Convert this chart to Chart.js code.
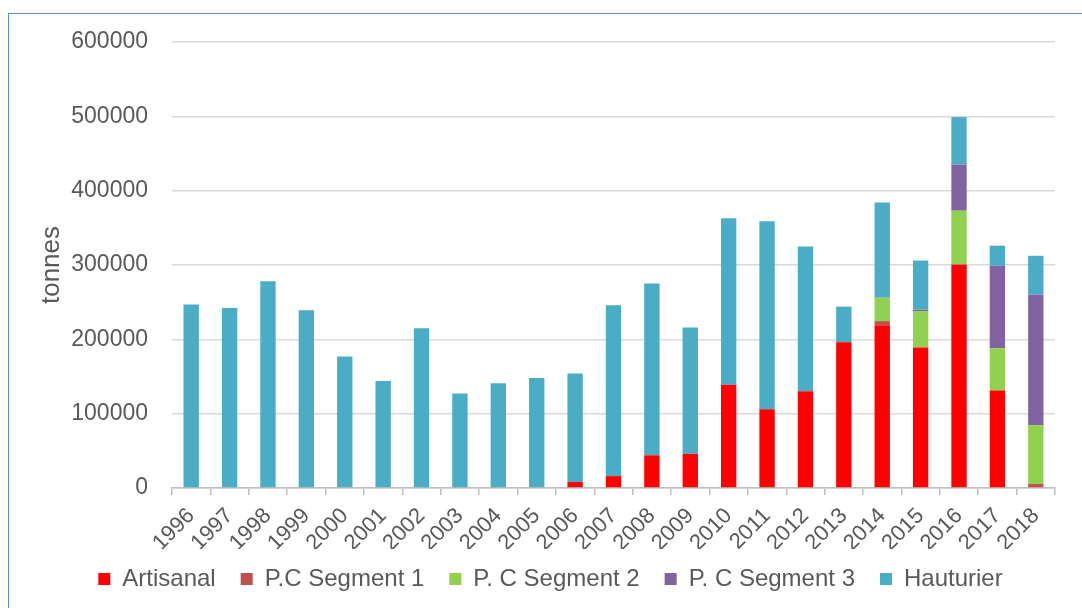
<!DOCTYPE html>
<html>
<head>
<meta charset="utf-8">
<script src="https://cdn.jsdelivr.net/npm/chart.js@4/dist/chart.umd.min.js"></script>
<style>
  html, body { margin: 0; padding: 0; background: #fff; }
  #wrap { position: relative; width: 1082px; height: 608px; overflow: hidden; }
  #frame { position: absolute; left: 8px; top: 13px; right: -10px; bottom: -10px;
           border-top: 1px solid #5b8fd0; border-left: 1px solid #5b8fd0; }
  canvas { position: absolute; left: 0; top: 0; }
</style>
</head>
<body>
<div id="wrap">
  <div id="frame"></div>
  <canvas id="chart" width="1082" height="608"></canvas>
</div>
<script>
// categories
const years = ['1996', '1997', '1998', '1999', '2000', '2001', '2002', '2003', '2004', '2005', '2006',
               '2007', '2008', '2009', '2010', '2011', '2012', '2013', '2014', '2015', '2016', '2017', '2018'];

// series values (tonnes)
const artisanal = [0, 0, 0, 0, 0, 0, 0, 0, 0, 0, 8000,
                   16000, 44000, 46000, 139000, 106000, 130000, 196000, 219000, 189000, 300000, 131000, 0];
const segment1  = [0, 0, 0, 0, 0, 0, 0, 0, 0, 0, 0,
                   0, 0, 0, 0, 0, 0, 0, 5500, 0, 1000, 0, 5400];
const segment2  = [0, 0, 0, 0, 0, 0, 0, 0, 0, 0, 0,
                   0, 0, 0, 0, 0, 0, 0, 31500, 49000, 72000, 57000, 79000];
const segment3  = [0, 0, 0, 0, 0, 0, 0, 0, 0, 0, 0,
                   0, 0, 0, 0, 0, 0, 0, 0, 2000, 62000, 111000, 176000];
const hauturier = [247000, 242000, 278000, 239000, 177000, 144000, 215000, 127000, 141000, 148000, 146000,
                   230000, 231000, 170000, 224000, 253000, 195000, 48000, 128000, 66000, 64000, 27000, 52000];

const yTicks = [0, 100000, 200000, 300000, 400000, 500000, 600000];

const textColor = '#595959';
const fontFamily = '"Liberation Sans", Arial, sans-serif';

function series(label, data, color) {
    return {
        label: label,
        data: data,
        backgroundColor: color,
        borderWidth: 0,
        barPercentage: 0.4,
        categoryPercentage: 1.0
    };
}

// legend in the original sits a bit right of the plot's centre and a bit higher
const legendShift = {
    id: 'legendShift',
    afterLayout(chart) {
        const lg = chart.legend;
        lg.left += 23;
        lg.right += 23;
        lg.top -= 7;
        lg.bottom -= 7;
    }
};

const ctx = document.getElementById('chart').getContext('2d');
new Chart(ctx, {
    type: 'bar',
    data: {
        labels: years,
        datasets: [
            series('Artisanal', artisanal, '#ff0000'),
            series('P.C Segment 1', segment1, '#c0504d'),
            series('P. C Segment 2', segment2, '#92d050'),
            series('P. C Segment 3', segment3, '#8064a2'),
            series('Hauturier', hauturier, '#4bacc6')
        ]
    },
    plugins: [legendShift],
    options: {
        responsive: false,
        animation: false,
        layout: { padding: { top: 42, left: 0, right: 27, bottom: 0 } },
        plugins: {
            tooltip: { enabled: false },
            legend: {
                position: 'bottom',
                labels: {
                    color: textColor,
                    font: { family: fontFamily, size: 24 },
                    boxWidth: 12,
                    boxHeight: 12,
                    padding: 25
                }
            }
        },
        scales: {
            x: {
                stacked: true,
                grid: {
                    display: true,
                    drawOnChartArea: false,
                    offset: true,
                    tickLength: 7,
                    color: '#bfbfbf',
                    lineWidth: 1.5
                },
                border: { color: '#bfbfbf', width: 1.5 },
                ticks: {
                    color: textColor,
                    font: { family: fontFamily, size: 22 },
                    minRotation: 45,
                    maxRotation: 45,
                    padding: 8,
                    autoSkip: false
                },
                afterFit: function (scale) { scale.height = 61; }
            },
            y: {
                stacked: true,
                min: 0,
                max: 600000,
                afterBuildTicks: function (scale) {
                    scale.ticks = yTicks.map(v => ({ value: v }));
                },
                grid: { color: '#d9d9d9', lineWidth: 1.5, drawTicks: false },
                border: { display: false },
                ticks: {
                    color: textColor,
                    font: { family: fontFamily, size: 23 },
                    padding: 24,
                    callback: v => String(v)
                },
                title: {
                    display: true,
                    text: 'tonnes',
                    color: textColor,
                    font: { family: fontFamily, size: 26 },
                    padding: { top: 36, bottom: 0 }
                },
                afterFit: function (scale) { scale.width = 172; }
            }
        }
    }
});
</script>
</body>
</html>
